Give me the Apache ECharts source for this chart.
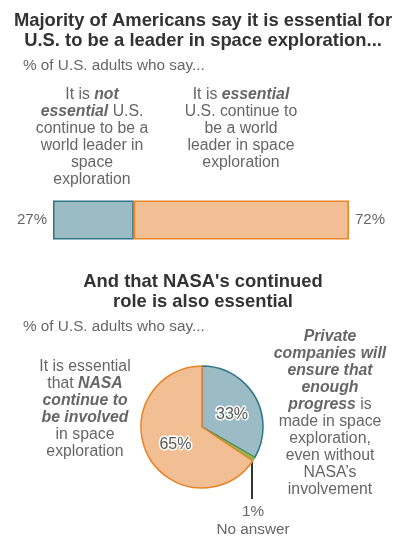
<!DOCTYPE html>
<html><head><meta charset="utf-8">
<script src="https://cdn.jsdelivr.net/npm/echarts@6/dist/echarts.min.js"></script>
<style>html,body{margin:0;padding:0;background:#fff}#c{width:406px;height:550px}</style>
</head><body><div id="c"></div>
<script>
// ---- data ----
const barCategories = ['U.S. leader in space'];
const notEssential = [27];
const essential = [72];
const pieNames = ['Private companies will ensure enough progress', 'No answer', 'Essential that NASA continue to be involved'];
const pieValues = [33, 1, 65];

const FONT = '"Liberation Sans", Arial, sans-serif';
const GRAY = '#666';
const BOLD = '#555';
const BLUE = '#9bbcc5', BLUE_B = '#2f7488';
const ORANGE = '#f2be93', ORANGE_B = '#ea8428';
const GREEN = '#8cbc5a', GREEN_B = '#5f9a32';

const rich = {
  n: {fontFamily: FONT, fontSize: 15.8, color: GRAY, lineHeight: 17},
  b: {fontFamily: FONT, fontSize: 15.8, color: BOLD, fontWeight: 'bold', fontStyle: 'italic', lineHeight: 17}
};
function txt(x, y, str) {
  return {type: 'text', x: x, y: y,
    style: {text: str, align: 'center', verticalAlign: 'middle', rich: rich, fontFamily: FONT, fontSize: 15.8, fill: GRAY}};
}
function title(x, y, str) {
  return {type: 'text', x: x, y: y, style: {text: str, align: 'center', verticalAlign: 'middle',
    fontFamily: FONT, fontSize: 18.4, fontWeight: 'bold', fill: '#333', lineHeight: 20}};
}
function sub(x, y, str) {
  return {type: 'text', x: x, y: y, style: {text: str, align: 'left', verticalAlign: 'middle',
    fontFamily: FONT, fontSize: 15.3, fill: GRAY}};
}

const chart = echarts.init(document.getElementById('c'), null, {renderer: 'canvas'});
chart.setOption({
  backgroundColor: '#fff',
  animation: false,
  graphic: [
    title(203, 31, 'Majority of Americans say it is essential for\nU.S. to be a leader in space exploration...'),
    sub(23, 66, '% of U.S. adults who say...'),
    txt(92, 137.5, '{n|It is }{b|not}\n{b|essential}{n| U.S.}\n{n|continue to be a}\n{n|world leader in}\n{n|space}\n{n|exploration}'),
    txt(241, 129, '{n|It is }{b|essential}\n{n|U.S. continue to}\n{n|be a world}\n{n|leader in space}\n{n|exploration}'),
    title(203, 292, 'And that NASA\'s continued\nrole is also essential'),
    sub(23, 327, '% of U.S. adults who say...'),
    txt(85, 409, '{n|It is essential}\n{n|that }{b|NASA}\n{b|continue to}\n{b|be involved}\n{n|in space}\n{n|exploration}'),
    txt(330, 413, '{b|Private}\n{b|companies will}\n{b|ensure that}\n{b|enough}\n{b|progress}{n| is}\n{n|made in space}\n{n|exploration,}\n{n|even without}\n{n|NASA\u2019s}\n{n|involvement}')
  ],
  grid: {left: 53, right: 57, top: 200, height: 40},
  xAxis: {type: 'value', min: 0, max: 99, show: false},
  yAxis: {type: 'category', data: barCategories, show: false},
  series: [
    {
      type: 'bar', stack: 'a', data: notEssential, barWidth: 39,
      itemStyle: {color: BLUE, borderColor: BLUE_B, borderWidth: 1.5},
      label: {show: true, position: 'left', distance: 6, formatter: '{c}%', fontFamily: FONT, fontSize: 15, color: GRAY}
    },
    {
      type: 'bar', stack: 'a', data: essential, barWidth: 39,
      itemStyle: {color: ORANGE, borderColor: ORANGE_B, borderWidth: 1.5},
      label: {show: true, position: 'right', distance: 6, formatter: '{c}%', fontFamily: FONT, fontSize: 15, color: GRAY}
    },
    {
      type: 'pie', center: [202, 427], radius: [0, 61], startAngle: 90, clockwise: true,
      silent: true,
      label: {show: true, position: 'inside', formatter: '{c}%', fontFamily: FONT, fontSize: 16, color: '#555',
        textBorderColor: '#fff', textBorderWidth: 3},
      labelLine: {show: false},
      data: [
        {name: pieNames[0], value: pieValues[0], itemStyle: {color: BLUE, borderColor: BLUE_B, borderWidth: 1.5},
          label: {offset: [1, 4]}},
        {name: pieNames[1], value: pieValues[1], itemStyle: {color: GREEN, borderColor: GREEN_B, borderWidth: 1},
          label: {position: 'outside', formatter: '{c}%\nNo answer', fontSize: 15.3, color: GRAY, textBorderWidth: 0, lineHeight: 18},
          labelLine: {show: true, lineStyle: {color: '#333', width: 2}}},
        {name: pieNames[2], value: pieValues[2], itemStyle: {color: ORANGE, borderColor: ORANGE_B, borderWidth: 1.5},
          label: {offset: [3, 2]}}
      ],
      labelLayout: function (p) {
        if (p.dataIndex === 1) {
          return {x: 253, y: 521, align: 'center', verticalAlign: 'middle',
            labelLinePoints: [[252, 459], [252, 499], [252, 499]]};
        }
        return {};
      }
    }
  ]
});
</script></body></html>
